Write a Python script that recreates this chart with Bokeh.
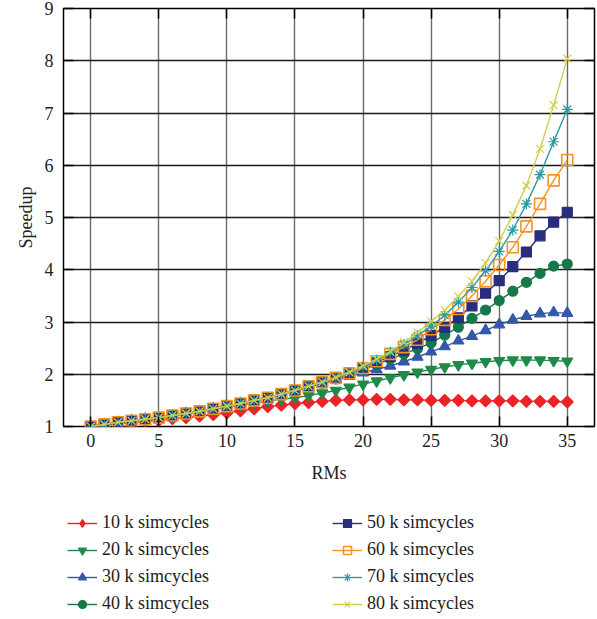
import math
from bokeh.plotting import figure
from bokeh.layouts import column
from bokeh.models import (LinearAxis, Legend, LegendItem, Range1d, FixedTicker)
from bokeh.embed import file_html
from bokeh.resources import INLINE

# Number of RMs on the x axis
rms = list(range(36))

# Speedup for each simulation length (k simcycles)
speedup_10k = [1.00, 1.02, 1.05, 1.07, 1.10, 1.12, 1.15, 1.17, 1.20, 1.23, 1.26, 1.30,
               1.34, 1.38, 1.41, 1.44, 1.46, 1.48, 1.50, 1.51, 1.51, 1.52, 1.52, 1.51,
               1.51, 1.50, 1.50, 1.50, 1.49, 1.49, 1.49, 1.49, 1.48, 1.48, 1.48, 1.47]
speedup_20k = [1.00, 1.03, 1.07, 1.10, 1.13, 1.16, 1.20, 1.24, 1.28, 1.32, 1.37, 1.41,
               1.45, 1.49, 1.52, 1.55, 1.59, 1.64, 1.69, 1.75, 1.81, 1.87, 1.93, 1.99,
               2.04, 2.09, 2.14, 2.18, 2.21, 2.24, 2.26, 2.27, 2.27, 2.27, 2.26, 2.25]
speedup_30k = [1.00, 1.04, 1.08, 1.11, 1.14, 1.17, 1.21, 1.25, 1.29, 1.34, 1.39, 1.44,
               1.49, 1.54, 1.61, 1.68, 1.75, 1.82, 1.89, 1.96, 2.03, 2.09, 2.16, 2.24,
               2.33, 2.43, 2.53, 2.64, 2.73, 2.84, 2.95, 3.04, 3.11, 3.16, 3.18, 3.17]
speedup_40k = [1.00, 1.04, 1.08, 1.11, 1.14, 1.17, 1.21, 1.25, 1.29, 1.34, 1.39, 1.44,
               1.50, 1.55, 1.62, 1.69, 1.76, 1.83, 1.91, 2.00, 2.09, 2.19, 2.29, 2.39,
               2.49, 2.60, 2.75, 2.90, 3.07, 3.23, 3.41, 3.59, 3.76, 3.93, 4.07, 4.11]
speedup_50k = [1.00, 1.04, 1.08, 1.11, 1.14, 1.17, 1.21, 1.25, 1.29, 1.34, 1.39, 1.44,
               1.50, 1.55, 1.62, 1.69, 1.77, 1.84, 1.92, 2.01, 2.11, 2.22, 2.34, 2.46,
               2.59, 2.74, 2.90, 3.08, 3.31, 3.55, 3.79, 4.06, 4.34, 4.65, 4.91, 5.10]
speedup_60k = [1.00, 1.04, 1.08, 1.11, 1.14, 1.17, 1.21, 1.25, 1.29, 1.34, 1.39, 1.44,
               1.50, 1.55, 1.62, 1.69, 1.77, 1.85, 1.93, 2.02, 2.12, 2.25, 2.39, 2.52,
               2.66, 2.86, 3.04, 3.25, 3.50, 3.78, 4.09, 4.43, 4.83, 5.26, 5.71, 6.10]
speedup_70k = [1.00, 1.04, 1.08, 1.11, 1.14, 1.17, 1.21, 1.25, 1.29, 1.34, 1.39, 1.44,
               1.50, 1.55, 1.62, 1.69, 1.77, 1.85, 1.93, 2.03, 2.14, 2.27, 2.42, 2.57,
               2.74, 2.92, 3.13, 3.38, 3.66, 3.98, 4.35, 4.76, 5.26, 5.82, 6.45, 7.07]
speedup_80k = [1.00, 1.04, 1.08, 1.11, 1.14, 1.17, 1.21, 1.25, 1.29, 1.34, 1.39, 1.44,
               1.50, 1.55, 1.62, 1.69, 1.77, 1.85, 1.94, 2.04, 2.16, 2.29, 2.43, 2.61,
               2.80, 3.01, 3.23, 3.49, 3.78, 4.13, 4.55, 5.05, 5.61, 6.31, 7.15, 8.04]

series_labels = ["10 k simcycles", "20 k simcycles", "30 k simcycles", "40 k simcycles",
                 "50 k simcycles", "60 k simcycles", "70 k simcycles", "80 k simcycles"]
x_ticks = [0, 5, 10, 15, 20, 25, 30, 35]
y_ticks = [1, 2, 3, 4, 5, 6, 7, 8, 9]

FONT = "Liberation Serif"

p = figure(frame_width=531, frame_height=418, output_backend="svg",
           toolbar_location=None, x_range=Range1d(-2, 37), y_range=Range1d(1, 9),
           min_border_left=63, min_border_right=3, min_border_top=8,
           min_border_bottom=64,
           background_fill_color="white", border_fill_color="white")
p.outline_line_color = "black"
p.outline_line_width = 1.5

# grid
p.xgrid.ticker = FixedTicker(ticks=x_ticks)
p.ygrid.ticker = FixedTicker(ticks=y_ticks)
p.xgrid.grid_line_color = "#6a6a6a"
p.xgrid.grid_line_width = 1.4
p.ygrid.grid_line_color = "#1a1a1a"
p.ygrid.grid_line_width = 1.3


def style_axis(ax, ticks, show_labels=True):
    ax.ticker = FixedTicker(ticks=ticks)
    ax.axis_line_color = None
    ax.major_tick_in = 10
    ax.major_tick_out = 0
    ax.minor_tick_in = 0
    ax.minor_tick_out = 0
    ax.major_tick_line_color = "black"
    ax.major_tick_line_width = 1.5
    ax.major_label_text_font = FONT
    ax.major_label_text_font_size = "18px"
    ax.major_label_text_color = "#222222"
    ax.axis_label_text_font = FONT
    ax.axis_label_text_font_size = "18px"
    ax.axis_label_text_font_style = "normal"
    ax.axis_label_text_color = "#222222"
    if not show_labels:
        ax.major_label_text_font_size = "0px"
        ax.major_label_text_alpha = 0


style_axis(p.xaxis[0], x_ticks)
style_axis(p.yaxis[0], y_ticks)
p.xaxis[0].axis_label = "RMs"
p.xaxis[0].major_label_standoff = 7
p.xaxis[0].axis_label_standoff = 13
p.yaxis[0].axis_label = "Speedup"
p.yaxis[0].major_label_standoff = 10
p.yaxis[0].axis_label_standoff = 6

# mirrored inward ticks on the top and right edges
top_ax = LinearAxis()
style_axis(top_ax, x_ticks, show_labels=False)
p.add_layout(top_ax, "above")
right_ax = LinearAxis()
style_axis(right_ax, y_ticks, show_labels=False)
p.add_layout(right_ax, "right")

# (values, colour, marker, size, filled, rotation, key marker, key size)
series = [
    (speedup_10k, "#ec2227", "square", 8.5, True, math.pi / 4, "diamond", 13),
    (speedup_20k, "#1f8a48", "inverted_triangle", 11, True, 0.0, "inverted_triangle", 11),
    (speedup_30k, "#3358a8", "triangle", 11, True, 0.0, "triangle", 11),
    (speedup_40k, "#16784a", "circle", 10, True, 0.0, "circle", 10),
    (speedup_50k, "#2a2c7c", "square", 10, True, 0.0, "square", 10),
    (speedup_60k, "#f7941d", "square", 11, False, 0.0, "square", 11),
    (speedup_70k, "#2a9ba3", "asterisk", 11, True, 0.0, "asterisk", 11),
    (speedup_80k, "#d3cc4b", "x", 11, True, 0.0, "x", 11),
]

# key panel underneath the chart; it repeats each series' glyphs with a view
# range that lies outside the data, so only the legend swatches appear
key = figure(width=597, height=129, output_backend="svg", toolbar_location=None,
             x_range=Range1d(-100, -99), y_range=Range1d(-100, -99),
             min_border=0, outline_line_color=None,
             background_fill_color="white", border_fill_color="white")
key.axis.visible = False
key.grid.visible = False

items = []
for (vals, color, marker, size, filled, rot, kmarker, ksize), label in zip(series, series_labels):
    line_kw = dict(line_color=color, line_width=1.4)
    style_kw = dict(line_color=color, line_width=1.6 if not filled else 1.2,
                    fill_color=color if filled else None)
    p.line(rms, vals, **line_kw)
    p.scatter(rms, vals, marker=marker, size=size, angle=rot, **style_kw)
    kl = key.line(rms, vals, **line_kw)
    km = key.scatter(rms, vals, marker=kmarker, size=ksize, **style_kw)
    items.append(LegendItem(label=label, renderers=[kl, km]))

legend = Legend(items=items, orientation="vertical", nrows=4,
                location=(4, 5), glyph_width=30, glyph_height=20,
                label_height=20, label_width=224, label_standoff=5, spacing=6,
                padding=0, margin=0, border_line_alpha=0,
                background_fill_alpha=0,
                label_text_font=FONT, label_text_font_size="18px",
                label_text_color="#222222")
key.add_layout(legend, "center")

page = column(p, key, spacing=0)
open("out.html", "w").write(file_html(page, INLINE))
